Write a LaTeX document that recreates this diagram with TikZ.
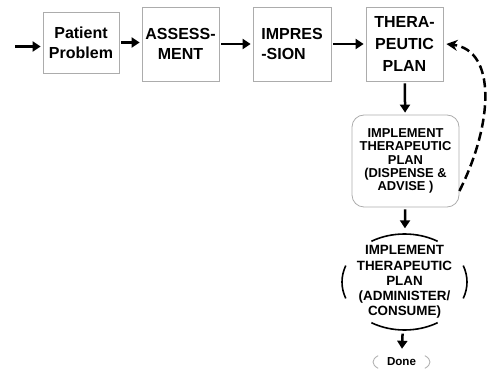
\documentclass[tikz,border=0pt]{standalone}
\usepackage{fontspec}
\setmainfont{Liberation Sans}
\usepackage{tikz}
\usetikzlibrary{arrows.meta, shapes.geometric}

\begin{document}
\begin{tikzpicture}[x=1pt, y=-1pt,
    box/.style={draw=gray!65, line width=0.8pt, align=center, inner sep=0pt,
        font=\fontsize{16}{20}\selectfont\bfseries},
    flow/.style={line width=2.5pt, -{Triangle[length=8pt,width=10pt]}, shorten <=2pt, shorten >=2pt}]
    \useasboundingbox (0,0) rectangle (487,371);

    \coordinate (S) at (15,46.5);

    \node[box, minimum width=76, minimum height=61] (pp) at (81,42.5) {Patient\\Problem};
    \node[box, minimum width=77, minimum height=74] (as) at (180.5,44) {ASSESS-\\MENT};
    \node[box, minimum width=78, minimum height=74, align=left] (im) at (292,44) {IMPRES\\-SION};
    \node[box, minimum width=77, minimum height=74, font=\fontsize{16}{22}\selectfont\bfseries] (tp) at (404.5,44) {THERA-\\PEUTIC\\PLAN};
    \node[box, minimum width=107, minimum height=92, rounded corners=12pt,
        font=\fontsize{12.9}{13.3}\selectfont\bfseries] (ia) at (405.5,161)
        {IMPLEMENT\\THERAPEUTIC\\PLAN\\(DISPENSE \&\\ADVISE )};
    \node[ellipse, minimum width=125, minimum height=96, inner sep=0pt, align=center,
        font=\fontsize{13.4}{15.2}\selectfont\bfseries] (ib) at (404.5,282)
        {IMPLEMENT\\THERAPEUTIC\\PLAN\\(ADMINISTER/\\CONSUME)};
    \node[ellipse, minimum width=57, minimum height=22, inner sep=0pt,
        font=\fontsize{11.6}{13}\selectfont\bfseries] (dn) at (401.5,362) {Done};

    \draw[flow, shorten <=0pt] (S) -- (S -| pp.west);
    \draw[flow] (pp.east) -- (pp.east -| as.west);
    \draw[flow] (as) -- (im);
    \draw[flow] (im) -- (tp);
    \draw[flow] (tp) -- (ia);
    \draw[flow] (ia) -- (ib);
    \draw[flow, shorten <=0pt] (ib) -- (dn);

    \draw[line width=2.5pt, dash pattern=on 9pt off 4.5pt, -{Stealth[length=11pt,width=11pt]}]
        ([yshift=-30pt]ia.east) .. controls (494,122) and (496,50) .. ([xshift=3pt]tp.east);

    \draw[line width=1.6pt] (ib.center) ++(58:62.5 and 48) arc[start angle=58, end angle=122, x radius=62.5, y radius=48];
    \draw[line width=1.6pt] (ib.center) ++(238:62.5 and 48) arc[start angle=238, end angle=302, x radius=62.5, y radius=48];
    \draw[line width=1.6pt] (ib.center) ++(160:62.5 and 48) arc[start angle=160, end angle=200, x radius=62.5, y radius=48];
    \draw[line width=1.6pt] (ib.center) ++(-20:62.5 and 48) arc[start angle=-20, end angle=20, x radius=62.5, y radius=48];

    \draw[gray!60, line width=0.9pt] (dn.center) ++(145:28.5 and 11) arc[start angle=145, end angle=215, x radius=28.5, y radius=11];
    \draw[gray!60, line width=0.9pt] (dn.center) ++(-35:28.5 and 11) arc[start angle=-35, end angle=35, x radius=28.5, y radius=11];
\end{tikzpicture}
\end{document}
